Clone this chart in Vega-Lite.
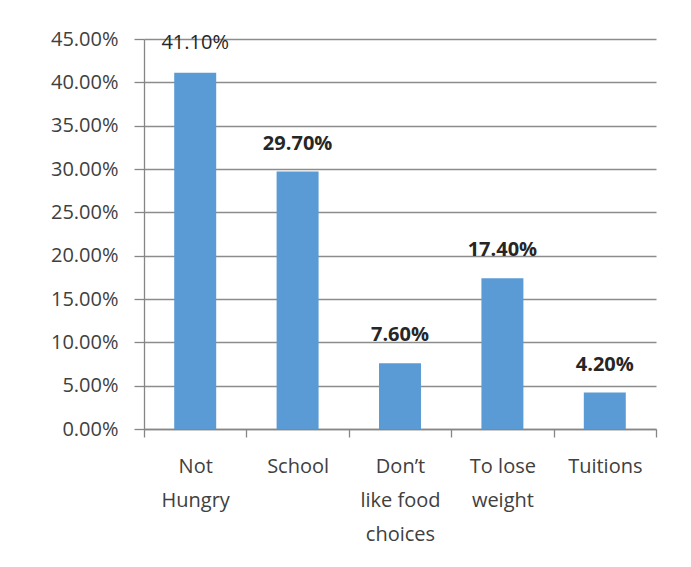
{
  "$schema": "https://vega.github.io/schema/vega-lite/v6.json",
  "autosize": {"type": "none"},
  "width": 512,
  "height": 390,
  "padding": {"left": 144, "top": 39, "right": 35, "bottom": 138},
  "background": "white",
  "data": {
    "values": [
      {"reason": "Not|Hungry", "pct": 0.411},
      {"reason": "School", "pct": 0.297},
      {"reason": "Don’t|like food|choices", "pct": 0.076},
      {"reason": "To lose|weight", "pct": 0.174},
      {"reason": "Tuitions", "pct": 0.042}
    ]
  },
  "encoding": {
    "x": {
      "field": "reason",
      "type": "nominal",
      "sort": null,
      "scale": {"paddingInner": 0, "paddingOuter": 0},
      "axis": {
        "title": null,
        "labelAngle": 0,
        "labelExpr": "datum.value ? split(datum.value, '|') : ''",
        "labelFont": "Open Sans",
        "labelFontSize": 20,
        "labelColor": "#404040",
        "labelLineHeight": 34,
        "labelBaseline": "top",
        "labelPadding": 19,
        "tickBand": "extent",
        "tickSize": 8,
        "tickColor": "#868686",
        "domainColor": "#868686",
        "domainWidth": 1.3,
        "tickWidth": 1.3,
        "grid": false
      }
    },
    "y": {
      "field": "pct",
      "type": "quantitative",
      "scale": {"domain": [0, 0.45], "nice": false},
      "axis": {
        "title": null,
        "values": [0, 0.05, 0.1, 0.15, 0.2, 0.25, 0.3, 0.35, 0.4, 0.45],
        "format": ".2%",
        "labelFont": "Open Sans",
        "labelFontSize": 20,
        "labelColor": "#404040",
        "labelPadding": 16,
        "tickSize": 10,
        "tickColor": "#868686",
        "tickWidth": 1.3,
        "domainColor": "#868686",
        "domainWidth": 1.3,
        "grid": true,
        "gridColor": "#8c8c8c",
        "gridWidth": 1.3
      }
    }
  },
  "layer": [
    {"mark": {"type": "bar", "color": "#5B9BD5", "width": {"band": 0.41}}},
    {
      "transform": [{"filter": "datum.pct > 0.4"}],
      "mark": {
        "type": "text",
        "baseline": "middle",
        "dy": -30,
        "font": "Open Sans",
        "fontSize": 20,
        "color": "#262626"
      },
      "encoding": {
        "text": {"field": "pct", "type": "quantitative", "format": ".2%"}
      }
    },
    {
      "transform": [{"filter": "datum.pct <= 0.4"}],
      "mark": {
        "type": "text",
        "baseline": "middle",
        "dy": -28,
        "font": "Open Sans",
        "fontSize": 20,
        "fontWeight": "bold",
        "color": "#262626"
      },
      "encoding": {
        "text": {"field": "pct", "type": "quantitative", "format": ".2%"}
      }
    }
  ],
  "config": {"view": {"stroke": null}}
}
